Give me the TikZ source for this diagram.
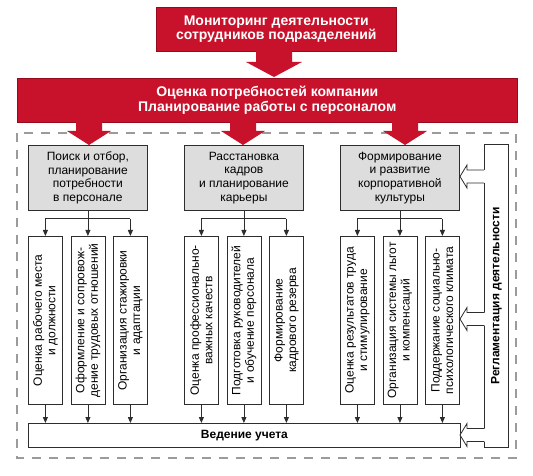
\documentclass[tikz,border=0pt]{standalone}
\usepackage{fontspec}
\setmainfont{Liberation Sans}
\usetikzlibrary{arrows.meta}
\definecolor{rd}{RGB}{200,18,44}
\definecolor{rdd}{RGB}{150,10,30}
\definecolor{gfill}{RGB}{221,221,221}
\definecolor{ln}{RGB}{45,45,45}
\definecolor{dsh}{RGB}{155,155,155}
\newcommand\myRedArrow[6]{\fill[rd] ({#1-#5},#2) -- ({#1+#5},#2) -- ({#1+#5},#3) -- ({#1+#6},#3) -- (#1,#4) -- ({#1-#6},#3) -- ({#1-#5},#3) -- cycle;}
\newcommand\myHollowArrow[1]{%
  \fill[white] (485,{#1-6.5}) -- (467,{#1-6.5}) -- (467,{#1-11.5}) -- (460,#1) -- (467,{#1+11.5}) -- (467,{#1+6.5}) -- (485,{#1+6.5}) -- cycle;
  \draw[conn] (484,{#1-6.5}) -- (467,{#1-6.5}) -- (467,{#1-11.5}) -- (460,#1) -- (467,{#1+11.5}) -- (467,{#1+6.5}) -- (484,{#1+6.5});}
\begin{document}
\begin{tikzpicture}[x=1bp,y=-1bp,
  conn/.style={draw=ln, line width=0.8bp},
  arr/.style={conn, -{Triangle[length=6bp,width=5bp]}},
  redbox/.style={fill=rd, draw=rdd, line width=0.5bp, text=white, anchor=north west, inner sep=0,
    font=\bfseries\fontsize{14bp}{14.5bp}\selectfont, align=center},
  graybox/.style={fill=gfill, draw=ln, line width=0.8bp, anchor=north west, inner sep=0,
    minimum width=119bp, minimum height=65bp, font=\fontsize{12bp}{13.7bp}\selectfont, align=center},
  smallbox/.style={fill=white, draw=ln, line width=0.8bp, anchor=north west, inner sep=0,
    minimum width=34bp, minimum height=168bp},
  vtext/.style={rotate=90, inner sep=0, font=\fontsize{12bp}{13.5bp}\selectfont, align=center},
]
\useasboundingbox (0,0) rectangle (533,476);
\fill[white] (0,0) rectangle (533,476);

% dashed frame
\draw[dsh, line width=1.3bp, dash pattern=on 9bp off 8bp] (17,133) rectangle (516,458);

% red boxes
\node[redbox, minimum width=240bp, minimum height=44bp] (mon) at (156,7)
  {Мониторинг деятельности\\сотрудников подразделений};
\node[redbox, minimum width=500bp, minimum height=44bp] (plan) at (17,78)
  {Оценка потребностей компании\\Планирование работы с персоналом};

% red arrows
\myRedArrow{274}{50}{62}{77}{18}{28}
\myRedArrow{89}{121}{131}{145}{13}{22}
\myRedArrow{243}{121}{131}{145}{13}{22}
\myRedArrow{405}{121}{131}{145}{13}{22}

% gray boxes
\node[graybox] (g1) at (28,145) {Поиск и отбор,\\планирование\\потребности\\в персонале};
\node[graybox] (g2) at (184,145) {Расстановка\\кадров\\и планирование\\карьеры};
\node[graybox] (g3) at (340,145) {Формирование\\и развитие\\корпоративной\\культуры};

% small boxes
\node[smallbox] (s11) at (28,236) {};
\node[smallbox] (s12) at (70.5,236) {};
\node[smallbox] (s13) at (113,236) {};
\node[smallbox] (s21) at (184,236) {};
\node[smallbox] (s22) at (226.5,236) {};
\node[smallbox] (s23) at (269,236) {};
\node[smallbox] (s31) at (340,236) {};
\node[smallbox] (s32) at (382.5,236) {};
\node[smallbox] (s33) at (425,236) {};

\node[vtext] (t11) at (s11.center) {Оценка рабочего места\\и должности};
\node[vtext] (t12) at (s12.center) {Оформление и сопровож-\\дение трудовых отношений};
\node[vtext] (t13) at (s13.center) {Организация стажировки\\и адаптации};
\node[vtext] (t21) at (s21.center) {Оценка профессионально-\\важных качеств};
\node[vtext] (t22) at (s22.center) {Подготовка руководителей\\и обучение персонала};
\node[vtext] (t23) at (s23.center) {Формирование\\кадрового резерва};
\node[vtext] (t31) at (s31.center) {Оценка результатов труда\\и стимулирование};
\node[vtext] (t32) at (s32.center) {Организация системы льгот\\и компенсаций};
\node[vtext] (t33) at (s33.center) {Поддержание социально-\\психологического климата};

% bottom box
\node[fill=white, draw=ln, line width=0.8bp, anchor=north west, inner sep=0,
  minimum width=432bp, minimum height=24bp, font=\bfseries\fontsize{12bp}{12bp}\selectfont] (ved) at (28,423) {Ведение учета};

% regulation box
\node[fill=white, draw=ln, line width=0.8bp, anchor=north west, inner sep=0,
  minimum width=24bp, minimum height=303bp] (reg) at (484,144) {};
\node[rotate=90, inner sep=0, font=\bfseries\fontsize{12bp}{12bp}\selectfont] (regt) at (reg.center) {Регламентация деятельности};

% group connectors
\foreach \g in {1,2,3}{
  \draw[conn] (g\g.south) -- ++(0,8) coordinate (j\g);
  \draw[conn] (s\g1.north |- j\g) -- (s\g3.north |- j\g);
  \foreach \k in {1,2,3}{
    \draw[arr] (s\g\k.north |- j\g) -- (s\g\k.north);
    \draw[arr] (s\g\k.south) -- (s\g\k.south |- ved.north);
  }
}

% hollow arrows from regulation box
\myHollowArrow{176.5}
\myHollowArrow{319}
\myHollowArrow{435}
\end{tikzpicture}
\end{document}
